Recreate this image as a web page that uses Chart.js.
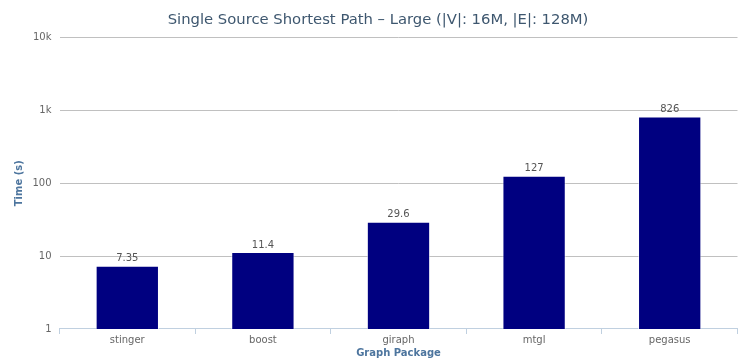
<!DOCTYPE html>
<html><head><meta charset="utf-8">
<script src="https://cdn.jsdelivr.net/npm/chart.js@4"></script>
<style>html,body{margin:0;padding:0;background:#fff;} #wrap{width:747px;height:362px;}</style>
</head><body><div id="wrap"><canvas id="c" width="747" height="362"></canvas></div>
<script>
const categories = ['stinger', 'boost', 'giraph', 'mtgl', 'pegasus'];
const times = [7.35, 11.4, 29.6, 127, 826];
const yTickValues = [1, 10, 100, 1000, 10000];
const yTickLabels = ['1', '10', '100', '1k', '10k'];
const chartTitle = 'Single Source Shortest Path \u2013 Large (|V|: 16M, |E|: 128M)';
const xTitle = 'Graph Package';
const yTitle = 'Time (s)';
const FONT = "'DejaVu Sans', Verdana, sans-serif";

const dataLabelPlugin = {
  id: 'dataLabels',
  afterDatasetsDraw(chart) {
    const ctx = chart.ctx;
    const meta = chart.getDatasetMeta(0);
    ctx.save();
    ctx.font = '10px ' + FONT;
    ctx.fillStyle = '#555555';
    ctx.textAlign = 'center';
    ctx.textBaseline = 'middle';
    meta.data.forEach((bar, i) => {
      ctx.fillText(String(times[i]), bar.x, bar.y - 7);
    });
    ctx.restore();
  }
};

new Chart(document.getElementById('c'), {
  type: 'bar',
  data: {
    labels: categories,
    datasets: [{
      data: times,
      backgroundColor: '#000080',
      borderColor: 'rgba(255,255,255,0.6)',
      borderWidth: 1,
      barPercentage: 1,
      categoryPercentage: 0.467
    }]
  },
  options: {
    responsive: false,
    animation: false,
    devicePixelRatio: 1,
    layout: { padding: { left: 18.5, right: 9.5, top: 0, bottom: 0 } },
    plugins: {
      legend: { display: false },
      tooltip: { enabled: false },
      title: {
        display: true,
        text: chartTitle,
        color: '#3E576F',
        font: { family: FONT, size: 14.8, weight: 'normal', lineHeight: 1.2 },
        padding: { top: 11, bottom: 8.7 }
      }
    },
    scales: {
      x: {
        grid: { display: true, drawOnChartArea: false, drawTicks: true, tickLength: 5, color: '#C0D0E0', offset: true },
        border: { display: true, color: '#C0D0E0', width: 1 },
        ticks: { color: '#666666', font: { family: FONT, size: 10 }, padding: 0.5 },
        title: { display: true, text: xTitle, color: '#4d759e', font: { family: FONT, size: 10, weight: 'bold' }, padding: { top: 0, bottom: 2.5 } },
        afterFit(s) { s.height = 33; }
      },
      y: {
        type: 'logarithmic',
        min: 1,
        max: 10000,
        afterBuildTicks(s) { s.ticks = yTickValues.map(v => ({ value: v })); },
        ticks: {
          callback: (v) => { const i = yTickValues.indexOf(v); return i >= 0 ? yTickLabels[i] : ''; },
          color: '#666666',
          font: { family: FONT, size: 10 },
          padding: 8
        },
        grid: {
          color: (c) => (c.tick && c.tick.value === 1) ? 'rgba(0,0,0,0)' : '#C0C0C0',
          drawTicks: false,
          lineWidth: 1
        },
        border: { display: false },
        title: { display: true, text: yTitle, color: '#4d759e', font: { family: FONT, size: 10, weight: 'bold' }, padding: { top: -5.5, bottom: 0 } },
        afterFit(s) { s.width = 41; }
      }
    }
  },
  plugins: [dataLabelPlugin]
});
</script>
</body></html>
